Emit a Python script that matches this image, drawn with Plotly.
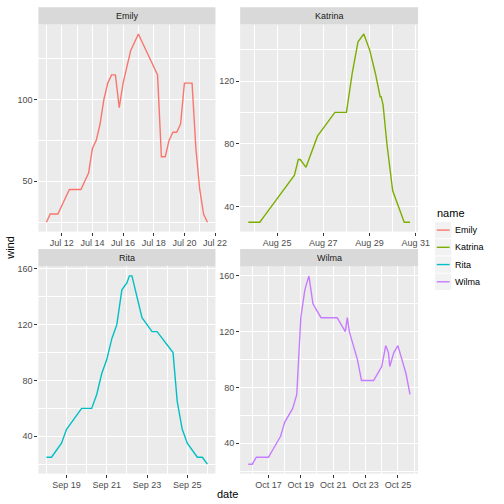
import pandas as pd
import plotly.graph_objects as go

# 2005 storms, wind (knots) by observation time
emily_time = ['2005-07-11 00:00', '2005-07-11 06:00', '2005-07-11 12:00', '2005-07-11 18:00',
              '2005-07-12 00:00', '2005-07-12 06:00', '2005-07-12 12:00', '2005-07-12 18:00',
              '2005-07-13 00:00', '2005-07-13 06:00', '2005-07-13 12:00', '2005-07-13 18:00',
              '2005-07-14 00:00', '2005-07-14 06:00', '2005-07-14 12:00', '2005-07-14 18:00',
              '2005-07-15 00:00', '2005-07-15 06:00', '2005-07-15 12:00', '2005-07-15 18:00',
              '2005-07-16 00:00', '2005-07-16 06:00', '2005-07-16 12:00', '2005-07-16 18:00',
              '2005-07-17 00:00', '2005-07-17 06:00', '2005-07-17 12:00', '2005-07-17 18:00',
              '2005-07-18 00:00', '2005-07-18 06:00', '2005-07-18 12:00', '2005-07-18 18:00',
              '2005-07-19 00:00', '2005-07-19 06:00', '2005-07-19 12:00', '2005-07-19 18:00',
              '2005-07-20 00:00', '2005-07-20 06:00', '2005-07-20 12:00', '2005-07-20 18:00',
              '2005-07-21 00:00', '2005-07-21 06:00', '2005-07-21 12:00']
emily_wind = [25, 30, 30, 30, 35, 40, 45, 45, 45, 45, 50, 55, 70, 75, 85, 100,
              110, 115, 115, 95, 110, 120, 130, 135, 140, 135, 130, 125, 120, 115,
              65, 65, 75, 80, 80, 85, 110, 110, 110, 70, 45, 30, 25]

katrina_time = ['2005-08-23 18:00', '2005-08-24 00:00', '2005-08-24 06:00', '2005-08-24 12:00',
                '2005-08-24 18:00', '2005-08-25 00:00', '2005-08-25 06:00', '2005-08-25 12:00',
                '2005-08-25 18:00', '2005-08-25 22:00', '2005-08-26 00:00', '2005-08-26 06:00',
                '2005-08-26 12:00', '2005-08-26 18:00', '2005-08-27 00:00', '2005-08-27 06:00',
                '2005-08-27 12:00', '2005-08-27 18:00', '2005-08-28 00:00', '2005-08-28 06:00',
                '2005-08-28 12:00', '2005-08-28 18:00', '2005-08-29 00:00', '2005-08-29 06:00',
                '2005-08-29 11:00', '2005-08-29 12:00', '2005-08-29 14:00', '2005-08-29 18:00',
                '2005-08-30 00:00', '2005-08-30 06:00', '2005-08-30 12:00', '2005-08-30 18:00']
katrina_wind = [30, 30, 30, 35, 40, 45, 50, 55, 60, 70, 70, 65, 75, 85, 90, 95,
                100, 100, 100, 125, 145, 150, 140, 125, 110, 110, 105, 80, 50, 40, 30, 30]

rita_time = ['2005-09-18 00:00', '2005-09-18 06:00', '2005-09-18 12:00', '2005-09-18 18:00',
             '2005-09-19 00:00', '2005-09-19 06:00', '2005-09-19 12:00', '2005-09-19 18:00',
             '2005-09-20 00:00', '2005-09-20 06:00', '2005-09-20 12:00', '2005-09-20 18:00',
             '2005-09-21 00:00', '2005-09-21 06:00', '2005-09-21 12:00', '2005-09-21 18:00',
             '2005-09-22 00:00', '2005-09-22 03:00', '2005-09-22 06:00', '2005-09-22 12:00',
             '2005-09-22 18:00', '2005-09-23 00:00', '2005-09-23 06:00', '2005-09-23 12:00',
             '2005-09-23 18:00', '2005-09-24 00:00', '2005-09-24 06:00', '2005-09-24 07:00',
             '2005-09-24 12:00', '2005-09-24 18:00', '2005-09-25 00:00', '2005-09-25 06:00',
             '2005-09-25 12:00', '2005-09-25 18:00', '2005-09-26 00:00']
rita_wind = [25, 25, 30, 35, 45, 50, 55, 60, 60, 60, 70, 85, 95, 110, 120, 145,
             150, 155, 155, 140, 125, 120, 115, 115, 110, 105, 100, 100, 65, 45, 35, 30,
             25, 25, 20]

wilma_time = ['2005-10-15 18:00', '2005-10-16 00:00', '2005-10-16 06:00', '2005-10-16 12:00',
              '2005-10-16 18:00', '2005-10-17 00:00', '2005-10-17 06:00', '2005-10-17 12:00',
              '2005-10-17 18:00', '2005-10-18 00:00', '2005-10-18 06:00', '2005-10-18 12:00',
              '2005-10-18 18:00', '2005-10-19 00:00', '2005-10-19 06:00', '2005-10-19 12:00',
              '2005-10-19 18:00', '2005-10-20 00:00', '2005-10-20 06:00', '2005-10-20 12:00',
              '2005-10-20 18:00', '2005-10-21 00:00', '2005-10-21 06:00', '2005-10-21 12:00',
              '2005-10-21 18:00', '2005-10-21 21:00', '2005-10-22 00:00', '2005-10-22 06:00',
              '2005-10-22 12:00', '2005-10-22 18:00', '2005-10-23 00:00', '2005-10-23 06:00',
              '2005-10-23 12:00', '2005-10-23 18:00', '2005-10-24 00:00', '2005-10-24 06:00',
              '2005-10-24 10:00', '2005-10-24 12:00', '2005-10-24 18:00', '2005-10-25 00:00',
              '2005-10-25 06:00', '2005-10-25 12:00', '2005-10-25 18:00']
wilma_wind = [25, 25, 30, 30, 30, 30, 35, 40, 45, 55, 60, 65, 75, 130, 150, 160,
              140, 135, 130, 130, 130, 130, 130, 125, 120, 130, 120, 110, 100, 85, 85, 85,
              85, 90, 95, 110, 105, 95, 105, 110, 100, 90, 75]

names = ['Emily', 'Katrina', 'Rita', 'Wilma']
colors = ['#F8766D', '#7CAE00', '#00BFC4', '#C77CFF']

emily_xticks = ['2005-07-12', '2005-07-14', '2005-07-16', '2005-07-18', '2005-07-20', '2005-07-22']
katrina_xticks = ['2005-08-25', '2005-08-27', '2005-08-29', '2005-08-31']
rita_xticks = ['2005-09-19', '2005-09-21', '2005-09-23', '2005-09-25']
wilma_xticks = ['2005-10-17', '2005-10-19', '2005-10-21', '2005-10-23', '2005-10-25']
emily_yticks = [50, 100]
katrina_yticks = [40, 80, 120]
rita_yticks = [40, 80, 120, 160]
wilma_yticks = [40, 80, 120, 160]

storms = {
    'Emily': (emily_time, emily_wind, emily_xticks, emily_yticks),
    'Katrina': (katrina_time, katrina_wind, katrina_xticks, katrina_yticks),
    'Rita': (rita_time, rita_wind, rita_xticks, rita_yticks),
    'Wilma': (wilma_time, wilma_wind, wilma_xticks, wilma_yticks),
}

W = H = 504
# panel boxes in pixels: x0, x1, y0 (top), y1 (bottom)
boxes = {
    'Emily': (39.3, 220.7, 22.7, 230.5),
    'Katrina': (246.0, 428.3, 22.7, 230.5),
    'Rita': (39.3, 220.7, 265.5, 473.5),
    'Wilma': (246.0, 428.3, 265.5, 473.5),
}
FONT = 'Liberation Sans, Arial, sans-serif'
DAY = 86400000

fig = go.Figure()
shapes = []
annotations = []
layout = {}

for i, name in enumerate(names):
    t, w, xt, yt = storms[name]
    t = pd.to_datetime(t)
    n = '' if i == 0 else str(i + 1)
    fig.add_trace(go.Scatter(x=t, y=w, mode='lines', line=dict(color=colors[i], width=1.4),
                             xaxis='x' + n, yaxis='y' + n, showlegend=False))
    x0, x1, y0, y1 = boxes[name]
    # ggplot-style 5% expansion
    tpad = (t.max() - t.min()) * 0.05
    wpad = (max(w) - min(w)) * 0.05
    ystep = yt[1] - yt[0]
    layout['xaxis' + n] = dict(
        domain=[x0 / W, x1 / W], anchor='y' + n, type='date',
        range=[t.min() - tpad, t.max() + tpad],
        tickmode='array', tickvals=xt, tickformat='%b %d',
        ticks='outside', ticklen=3, tickcolor='#333333', tickwidth=1,
        tickfont=dict(size=9, color='#4D4D4D', family=FONT),
        showgrid=True, gridcolor='white', gridwidth=1.4, zeroline=False, showline=False,
        minor=dict(tick0=xt[0], dtick=DAY, showgrid=True, gridcolor='white', gridwidth=0.7),
    )
    layout['yaxis' + n] = dict(
        domain=[1 - y1 / H, 1 - y0 / H], anchor='x' + n,
        range=[min(w) - wpad, max(w) + wpad],
        tickmode='array', tickvals=yt,
        ticks='outside', ticklen=3, tickcolor='#333333', tickwidth=1,
        tickfont=dict(size=9, color='#4D4D4D', family=FONT),
        showgrid=True, gridcolor='white', gridwidth=1.4, zeroline=False, showline=False,
        minor=dict(tick0=0, dtick=ystep / 2, showgrid=True, gridcolor='white', gridwidth=0.7),
    )
    # facet strip
    shapes.append(dict(type='rect', xref='paper', yref='paper', x0=x0 / W, x1=x1 / W,
                       y0=1 - y0 / H, y1=1 - (y0 - 17.5) / H,
                       fillcolor='#D9D9D9', line=dict(width=0), layer='below'))
    annotations.append(dict(text=name, xref='paper', yref='paper', x=(x0 + x1) / 2 / W,
                            y=1 - (y0 - 8.75) / H, showarrow=False, xanchor='center',
                            yanchor='middle', font=dict(size=9, color='#1A1A1A', family=FONT)))

# legend drawn ggplot style
annotations.append(dict(text='name', xref='paper', yref='paper', x=445.5 / W, y=1 - 212 / H,
                        showarrow=False, xanchor='left', yanchor='middle',
                        font=dict(size=11, color='black', family=FONT)))
for i, name in enumerate(names):
    yc = 229 + i * 17.3
    shapes.append(dict(type='rect', xref='paper', yref='paper', x0=445.7 / W, x1=462.3 / W,
                       y0=1 - (yc + 8.2) / H, y1=1 - (yc - 8.2) / H,
                       fillcolor='#F2F2F2', line=dict(width=0)))
    shapes.append(dict(type='line', xref='paper', yref='paper', x0=447.4 / W, x1=460.6 / W,
                       y0=1 - yc / H, y1=1 - yc / H, line=dict(color=colors[i], width=1.4)))
    annotations.append(dict(text=name, xref='paper', yref='paper', x=464.5 / W, y=1 - yc / H,
                            showarrow=False, xanchor='left', yanchor='middle',
                            font=dict(size=9, color='black', family=FONT)))

# axis titles
annotations.append(dict(text='wind', xref='paper', yref='paper', x=10 / W, y=1 - 247 / H,
                        showarrow=False, textangle=-90, xanchor='center', yanchor='middle',
                        font=dict(size=11, color='black', family=FONT)))
annotations.append(dict(text='date', xref='paper', yref='paper', x=233.5 / W, y=1 - 494 / H,
                        showarrow=False, xanchor='center', yanchor='middle',
                        font=dict(size=11, color='black', family=FONT)))

fig.update_layout(width=W, height=H, margin=dict(l=0, r=0, t=0, b=0),
                  plot_bgcolor='#EBEBEB', paper_bgcolor='white', showlegend=False,
                  shapes=shapes, annotations=annotations, font=dict(family=FONT), **layout)
# page body has a default 8px margin; drop it so the figure sits at the window corner
fig.write_html('out.html', config={'displayModeBar': False},
               post_script="document.body.style.margin='0';")
